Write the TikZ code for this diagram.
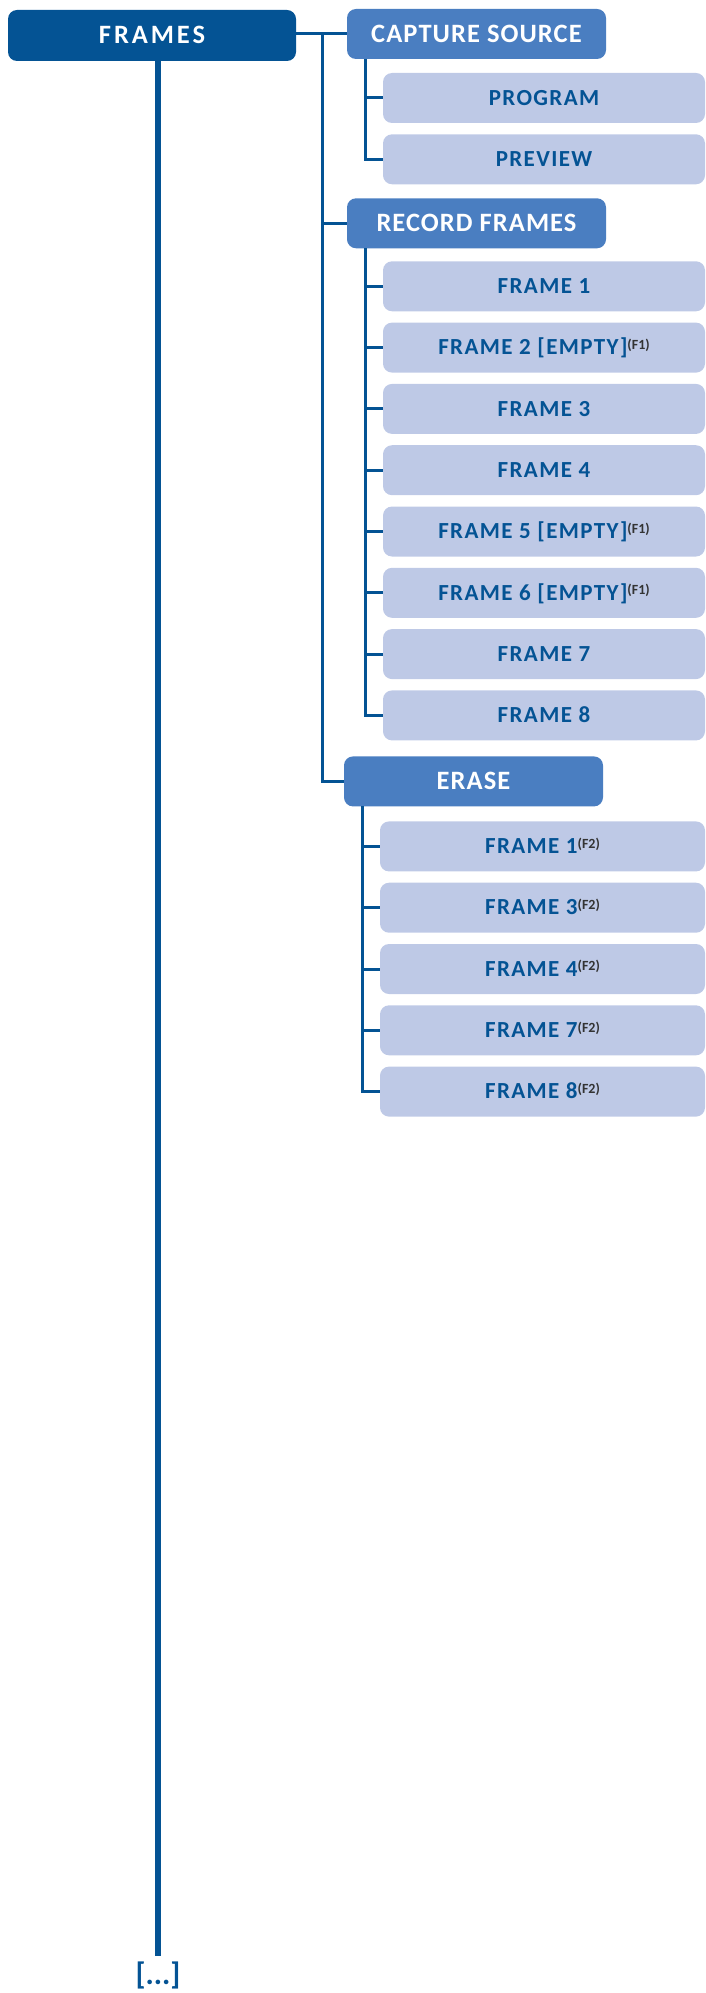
\documentclass[tikz,border=0pt]{standalone}
\usepackage{fontspec}
\setmainfont{Carlito}
\usetikzlibrary{positioning}

\definecolor{darkblue}{HTML}{045394}
\definecolor{midblue}{HTML}{4A7EC1}
\definecolor{paleblue}{HTML}{BEC9E6}
\definecolor{notegray}{HTML}{333333}

\newcommand{\fnref}[1]{\raisebox{5.5pt}{\fontsize{14}{14}\selectfont\addfontfeature{LetterSpace=0}\color{notegray}(#1)}}

\begin{document}
\begin{tikzpicture}[
    x=1pt, y=1pt,
    node distance=11.3pt,
    head/.style={rectangle, rounded corners=9pt, fill=darkblue, text=white,
        font=\bfseries\fontsize{26.5}{32}\selectfont\addfontfeature{LetterSpace=11},
        minimum width=288pt, minimum height=51pt, text height=16.8pt, text depth=0pt,
        outer sep=0pt},
    branch/.style={rectangle, rounded corners=9pt, fill=midblue, text=white,
        font=\bfseries\fontsize{26.5}{30}\selectfont\addfontfeature{LetterSpace=4},
        minimum width=259pt, minimum height=50pt, text height=16.8pt, text depth=0pt,
        outer sep=0pt},
    leaf/.style={rectangle, rounded corners=9pt, fill=paleblue, text=darkblue,
        font=\bfseries\fontsize{23}{28}\selectfont\addfontfeature{LetterSpace=6},
        minimum width=322pt, minimum height=50pt, text height=14.5pt, text depth=0pt,
        outer sep=0pt},
    link/.style={draw=darkblue, line width=3pt},
    trunk/.style={draw=darkblue, line width=5.5pt}
]
\useasboundingbox (0,0) rectangle (706,-1993);

\node[head] (frames) at (152,-35.5) {FRAMES};

% capture source
\node[branch, anchor=west] (cap) at (347,-34) {CAPTURE SOURCE};
\node[leaf, below=14pt of cap.south west, anchor=north west, xshift=36pt] (prog) {PROGRAM};
\node[leaf, below=of prog] (prev) {PREVIEW};

% record frames
\node[branch, below=14pt of prev.south west, anchor=north west, xshift=-36pt] (rec) {RECORD FRAMES};
\node[leaf, below=13pt of rec.south west, anchor=north west, xshift=36pt] (rec1) {FRAME 1};
\node[leaf, below=of rec1] (rec2) {FRAME 2 [EMPTY]\fnref{F1}};
\node[leaf, below=of rec2] (rec3) {FRAME 3};
\node[leaf, below=of rec3] (rec4) {FRAME 4};
\node[leaf, below=of rec4] (rec5) {FRAME 5 [EMPTY]\fnref{F1}};
\node[leaf, below=of rec5] (rec6) {FRAME 6 [EMPTY]\fnref{F1}};
\node[leaf, below=of rec6] (rec7) {FRAME 7};
\node[leaf, below=of rec7] (rec8) {FRAME 8};

% erase
\node[branch, below=16pt of rec8.south west, anchor=north west, xshift=-39pt] (erase) {ERASE};
\node[leaf, below=15pt of erase.south west, anchor=north west, xshift=36pt, minimum width=325pt] (era1) {FRAME 1\fnref{F2}};
\node[leaf, below=of era1, minimum width=325pt] (era3) {FRAME 3\fnref{F2}};
\node[leaf, below=of era3, minimum width=325pt] (era4) {FRAME 4\fnref{F2}};
\node[leaf, below=of era4, minimum width=325pt] (era7) {FRAME 7\fnref{F2}};
\node[leaf, below=of era7, minimum width=325pt] (era8) {FRAME 8\fnref{F2}};

\coordinate (spine) at (322,0);
\coordinate (captrunk) at ([xshift=18pt]cap.south west);
\coordinate (rectrunk) at ([xshift=18pt]rec.south west);
\coordinate (erasetrunk) at ([xshift=18pt]erase.south west);
\coordinate (trunkend) at (158,-1956);

\draw[link] (frames.east |- cap.west) -- (cap.west);
\draw[link] (cap.west -| spine) |- (rec.west);
\draw[link] (cap.west -| spine) |- (erase.west);

\draw[link] (captrunk) |- (prog.west);
\draw[link] (captrunk) |- (prev.west);

\draw[link] (rectrunk) |- (rec1.west);
\draw[link] (rectrunk) |- (rec2.west);
\draw[link] (rectrunk) |- (rec3.west);
\draw[link] (rectrunk) |- (rec4.west);
\draw[link] (rectrunk) |- (rec5.west);
\draw[link] (rectrunk) |- (rec6.west);
\draw[link] (rectrunk) |- (rec7.west);
\draw[link] (rectrunk) |- (rec8.west);

\draw[link] (erasetrunk) |- (era1.west);
\draw[link] (erasetrunk) |- (era3.west);
\draw[link] (erasetrunk) |- (era4.west);
\draw[link] (erasetrunk) |- (era7.west);
\draw[link] (erasetrunk) |- (era8.west);

\draw[trunk] (frames.south -| trunkend) -- (trunkend);
\node[below=6pt of trunkend, text=darkblue, font=\bfseries\fontsize{31}{34}\selectfont,
    inner sep=0pt] (more) {[...]};
\end{tikzpicture}
\end{document}
